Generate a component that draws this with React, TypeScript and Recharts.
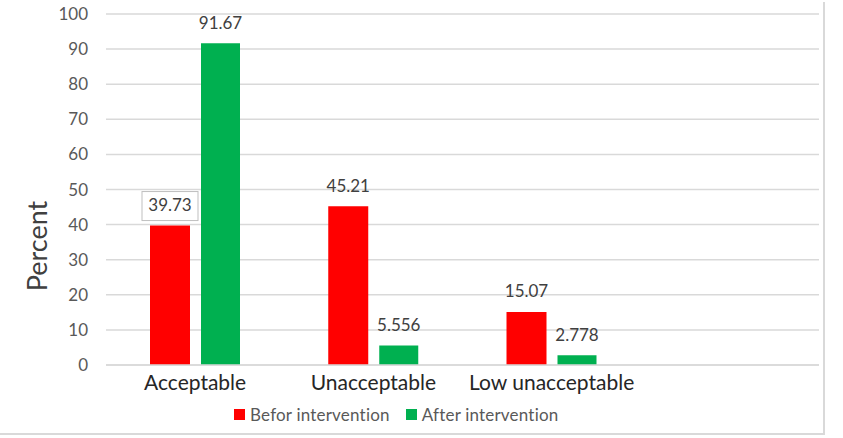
import React from 'react';
import {
  BarChart,
  Bar,
  XAxis,
  YAxis,
  CartesianGrid,
  LabelList,
} from 'recharts';

const categories = ['Acceptable', 'Unacceptable', 'Low unacceptable', ''];
const beforeValues = [39.73, 45.21, 15.07, null];
const afterValues = [91.67, 5.556, 2.778, null];
const yTicks = [0, 10, 20, 30, 40, 50, 60, 70, 80, 90, 100];

const data = categories.map((name, i) => ({
  name,
  before: beforeValues[i],
  after: afterValues[i],
}));

const FONT = 'Lato, "Open Sans", sans-serif';
const RED = '#ff0000';
const GREEN = '#00b050';

function ValueLabel(props: any) {
  const { x, y, width, value, index, boxed } = props;
  if (value == null) return null;
  const cx = x + width / 2;
  const ty = y - 19;
  return (
    <g>
      {boxed && index === 0 && (
        <rect
          x={cx - 28}
          y={ty - 15}
          width={56}
          height={29}
          fill="#fff"
          stroke="#bfbfbf"
          strokeWidth={1}
        />
      )}
      <text
        x={cx}
        y={ty}
        textAnchor="middle"
        dominantBaseline="middle"
        fontFamily={FONT}
        fontSize={17}
        fill="#404040"
      >
        {value}
      </text>
    </g>
  );
}

function LegendItem({ color, text }: { color: string; text: string }) {
  return (
    <span style={{ display: 'inline-flex', alignItems: 'center', marginRight: 16 }}>
      <span
        style={{ width: 11, height: 11, background: color, display: 'inline-block', marginRight: 5 }}
      />
      {text}
    </span>
  );
}

export default function App() {
  return (
    <div
      style={{
        position: 'absolute',
        left: 0,
        top: 0,
        width: 843,
        height: 438,
        background: '#fff',
      }}
    >
      <div
        style={{
          position: 'absolute',
          left: 0,
          top: 2,
          width: 823,
          height: 431,
          borderRight: '2px solid #d9d9d9',
          borderBottom: '2px solid #d9d9d9',
        }}
      />
      <BarChart
        width={843}
        height={438}
        data={data}
        margin={{ top: 14, right: 24, left: 0, bottom: 43 }}
        barCategoryGap="25%"
        barGap={11}
      >
        <CartesianGrid vertical={false} stroke="#d9d9d9" strokeWidth={1.5} />
        <XAxis
          dataKey="name"
          height={30}
          tickLine={false}
          axisLine={{ stroke: '#d9d9d9', strokeWidth: 1.5 }}
          tick={{ fontFamily: FONT, fontSize: 21, fill: '#262626' }}
          tickMargin={4}
          interval={0}
        />
        <YAxis
          width={106}
          domain={[0, 100]}
          ticks={yTicks}
          tickLine={false}
          axisLine={false}
          tickMargin={12}
          tick={{ fontFamily: FONT, fontSize: 17, fill: '#595959' }}
          label={{
            content: () => (
              <text
                x={40}
                y={246}
                transform="rotate(-90, 40, 246)"
                textAnchor="middle"
                dominantBaseline="middle"
                fontFamily={FONT}
                fontSize={27}
                fill="#404040"
              >
                Percent
              </text>
            ),
          }}
        />
        <Bar dataKey="before" fill={RED} barSize={40} isAnimationActive={false}>
          <LabelList dataKey="before" content={<ValueLabel boxed />} />
        </Bar>
        <Bar dataKey="after" fill={GREEN} barSize={39} isAnimationActive={false}>
          <LabelList dataKey="after" content={<ValueLabel />} />
        </Bar>
      </BarChart>
      <div
        style={{
          position: 'absolute',
          left: 234,
          top: 403,
          fontFamily: FONT,
          fontSize: 17,
          letterSpacing: 0.2,
          color: '#595959',
          whiteSpace: 'nowrap',
        }}
      >
        <LegendItem color={RED} text="Befor intervention" />
        <LegendItem color={GREEN} text="After intervention" />
      </div>
    </div>
  );
}
